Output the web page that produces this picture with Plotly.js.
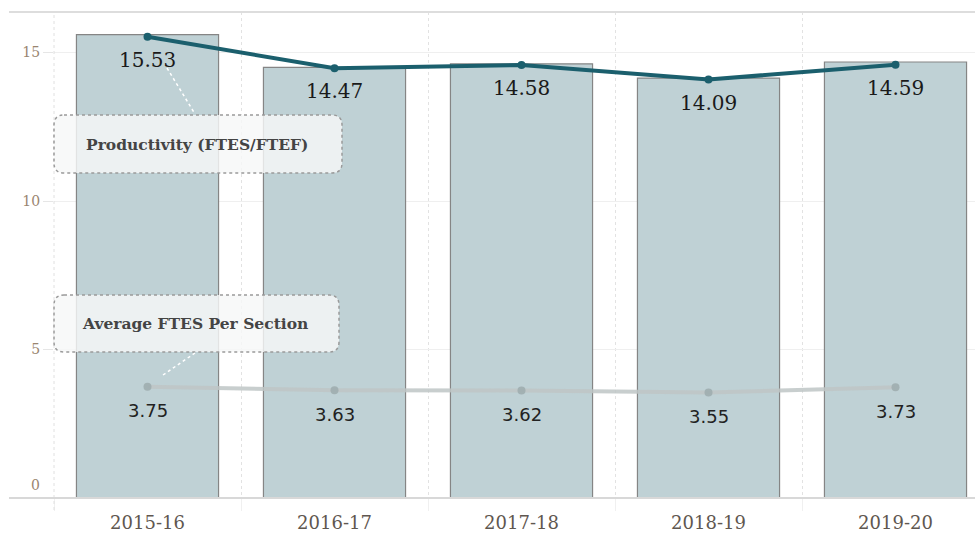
<!DOCTYPE html>
<html>
<head>
<meta charset="utf-8">
<script src="https://cdn.plot.ly/plotly-3.0.1.min.js"></script>
<style>html,body{margin:0;padding:0;background:#fff;}#chart{width:975px;height:533px;}</style>
</head>
<body>
<div id="chart"></div>
<script>
var years = ["2015-16", "2016-17", "2017-18", "2018-19", "2019-20"];
var barValues = [15.6, 14.5, 14.62, 14.14, 14.68];
var productivity = [15.53, 14.47, 14.58, 14.09, 14.59];
var ftesPerSection = [3.75, 3.63, 3.62, 3.55, 3.73];
var yTicks = [0, 5, 10, 15];

var W = 975, H = 533, mL = 54, mR = 0, mT = 12, mB = 35;
var pw = W - mL - mR, ph = H - mT - mB;
function px(x) { return (x - mL) / pw; }
function py(y) { return (H - mB - y) / ph; }
function roundRect(x0, y0, x1, y1, r) {
  var rx = r / pw, ry = r / ph;
  var a = px(x0), b = px(x1), t = py(y0), u = py(y1);
  return 'M' + (a + rx) + ',' + t + ' L' + (b - rx) + ',' + t +
    ' Q' + b + ',' + t + ' ' + b + ',' + (t - ry) +
    ' L' + b + ',' + (u + ry) + ' Q' + b + ',' + u + ' ' + (b - rx) + ',' + u +
    ' L' + (a + rx) + ',' + u + ' Q' + a + ',' + u + ' ' + a + ',' + (u + ry) +
    ' L' + a + ',' + (t - ry) + ' Q' + a + ',' + t + ' ' + (a + rx) + ',' + t + ' Z';
}

var traces = [
  {
    type: 'bar', x: years, y: barValues, width: 0.76,
    marker: {color: '#bfd1d5', line: {color: '#858585', width: 1.2}},
    hoverinfo: 'skip', showlegend: false
  },
  {
    type: 'scatter', mode: 'lines+markers', x: years, y: ftesPerSection,
    line: {color: 'rgba(190,198,198,0.85)', width: 4},
    marker: {color: 'rgba(160,175,177,0.95)', size: 8},
    showlegend: false
  },
  {
    type: 'scatter', mode: 'lines+markers', x: years, y: productivity,
    line: {color: '#1b5f6d', width: 4},
    marker: {color: '#1b5f6d', size: 8},
    showlegend: false
  }
];

var shapes = [
  {type: 'line', xref: 'paper', yref: 'paper', x0: 0, x1: 0, y0: py(510), y1: 1, line: {color: '#e0e0e0', width: 1, dash: 'dot'}},
  {type: 'line', xref: 'paper', yref: 'paper', x0: px(9), x1: 1, y0: py(12), y1: py(12), line: {color: '#dddddd', width: 2}},
  {type: 'line', xref: 'paper', yref: 'paper', x0: px(9), x1: 1, y0: 0, y1: 0, line: {color: '#d8d8d8', width: 2}},
  {type: 'path', xref: 'paper', yref: 'paper', path: roundRect(54, 115, 342, 173, 10), fillcolor: 'rgba(246,248,248,0.82)', line: {color: '#9a9a9a', width: 1.5, dash: 'dot'}},
  {type: 'path', xref: 'paper', yref: 'paper', path: roundRect(54, 295, 339, 352, 10), fillcolor: 'rgba(246,248,248,0.82)', line: {color: '#9a9a9a', width: 1.5, dash: 'dot'}},
  {type: 'line', xref: 'paper', yref: 'paper', x0: px(167), y0: py(68), x1: px(195), y1: py(114), line: {color: '#ffffff', width: 1.5, dash: 'dot'}},
  {type: 'line', xref: 'paper', yref: 'paper', x0: px(163), y0: py(375), x1: px(195), y1: py(353), line: {color: '#ffffff', width: 1.5, dash: 'dot'}}
];

var annotations = [
  {xref: 'paper', yref: 'paper', x: px(197), y: py(144), text: '<b>Productivity (FTES/FTEF)</b>', showarrow: false, xanchor: 'center', yanchor: 'middle', font: {family: 'DejaVu Serif', size: 15.5, color: '#444'}},
  {xref: 'paper', yref: 'paper', x: px(195), y: py(323), text: '<b>Average FTES Per Section</b>', showarrow: false, xanchor: 'center', yanchor: 'middle', font: {family: 'DejaVu Serif', size: 15.5, color: '#444'}},
  {xref: 'paper', yref: 'y', x: 0, y: yTicks[0], xanchor: 'right', yanchor: 'middle', xshift: -12, yshift: 13, text: String(yTicks[0]), showarrow: false, font: {family: 'DejaVu Serif', size: 14, color: '#9a8570'}}
];
years.forEach(function(yr, i) {
  annotations.push({x: yr, y: productivity[i], xref: 'x', yref: 'y', text: productivity[i].toFixed(2), showarrow: false, yshift: -23, yanchor: 'middle', font: {family: 'DejaVu Serif', size: 20, color: '#1a1a1a'}});
  annotations.push({x: yr, y: ftesPerSection[i], xref: 'x', yref: 'y', text: ftesPerSection[i].toFixed(2), showarrow: false, yshift: -24, yanchor: 'middle', font: {family: 'DejaVu Sans', size: 18, color: '#222'}});
});

var layout = {
  width: W, height: H,
  margin: {l: mL, r: mR, t: mT, b: mB, pad: 0},
  paper_bgcolor: '#ffffff', plot_bgcolor: '#ffffff',
  showlegend: false,
  xaxis: {
    type: 'category', range: [-0.5, -0.5 + pw / 187],
    tickson: 'boundaries', showgrid: true, gridcolor: '#e2e2e2', griddash: 'dot', gridwidth: 1,
    ticks: 'outside', ticklen: 12, tickcolor: '#f0f0f0', tickwidth: 1,
    ticklabelstandoff: 12,
    showline: false, zeroline: false,
    tickfont: {family: 'DejaVu Serif', size: 18, color: '#5f5750'},
    fixedrange: true
  },
  yaxis: {
    range: [0, (H - mT - mB) / 29.7],
    tickvals: yTicks, ticktext: yTicks.map(function(v){ return v === 0 ? '' : String(v); }),
    showgrid: true, gridcolor: '#efefef', gridwidth: 1,
    ticks: 'outside', ticklen: 10, tickcolor: '#e6e6e6',
    showline: false, zeroline: false,
    tickfont: {family: 'DejaVu Serif', size: 14, color: '#9a8570'},
    fixedrange: true
  },
  shapes: shapes,
  annotations: annotations
};

Plotly.newPlot('chart', traces, layout, {displayModeBar: false, staticPlot: true});
</script>
</body>
</html>
